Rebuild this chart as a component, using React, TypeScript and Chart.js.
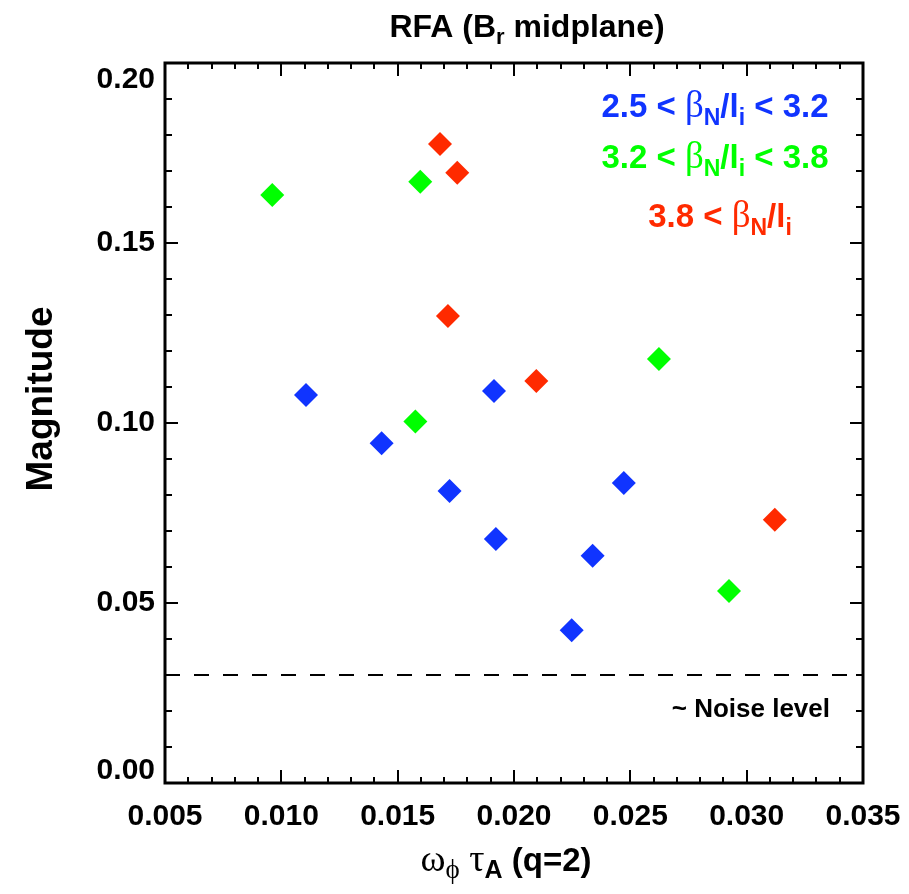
import React, { useEffect, useRef } from "react";
import { Chart, registerables } from "chart.js";

Chart.register(...registerables);

// ---- data ----
const xBlue = [0.01106, 0.01431, 0.01723, 0.01914, 0.01922, 0.02248, 0.02338, 0.02472];
const yBlue = [0.1078, 0.0944, 0.0811, 0.1089, 0.0678, 0.0424, 0.0631, 0.0833];
const xGreen = [0.00961, 0.01597, 0.01576, 0.02623, 0.02924];
const yGreen = [0.1633, 0.167, 0.1004, 0.1178, 0.0533];
const xRed = [0.01682, 0.01756, 0.01716, 0.02096, 0.03121];
const yRed = [0.1775, 0.1695, 0.1297, 0.1117, 0.0731];
const noiseLevel = 0.03;
const xRange = [0.005, 0.035];
const yRange = [0.0, 0.2];
const xMajorStep = 0.005;
const xMinorStep = 0.001;
const yMajorStep = 0.05;
const yMinorStep = 0.01;

const BLUE = "#1034ff";
const GREEN = "#00ff00";
const RED = "#ff2a00";

const SANS = '"Liberation Sans", Arial, sans-serif';
const SERIF = '"Liberation Serif", "DejaVu Serif", serif';

type Run = { t: string; font: string; dy?: number };

function runsWidth(ctx: CanvasRenderingContext2D, runs: Run[]) {
  let w = 0;
  for (const r of runs) {
    ctx.font = r.font;
    w += ctx.measureText(r.t).width;
  }
  return w;
}

function drawRuns(ctx: CanvasRenderingContext2D, runs: Run[], cx: number, y: number, color: string) {
  const w = runsWidth(ctx, runs);
  let x = cx - w / 2;
  ctx.fillStyle = color;
  ctx.textAlign = "left";
  ctx.textBaseline = "alphabetic";
  for (const r of runs) {
    ctx.font = r.font;
    ctx.fillText(r.t, x, y + (r.dy || 0));
    x += ctx.measureText(r.t).width;
  }
}

const framePlugin = {
  id: "framePlugin",
  beforeDraw(chart: any) {
    const ys = chart.scales.y;
    const items = ys.getLabelItems(chart.chartArea);
    for (const it of items) {
      if (it.label === "0.20") it.options.translation[1] += 17;
      if (it.label === "0.00") it.options.translation[1] -= 12;
    }
  },
  afterDraw(chart: any) {
    const ctx: CanvasRenderingContext2D = chart.ctx;
    const { left, right, top, bottom } = chart.chartArea;
    const xs = chart.scales.x;
    const ys = chart.scales.y;
    ctx.save();
    ctx.strokeStyle = "#000";
    // ticks
    ctx.lineWidth = 2;
    const nx = Math.round((xRange[1] - xRange[0]) / xMinorStep);
    for (let i = 1; i < nx; i++) {
      const v = xRange[0] + i * xMinorStep;
      const px = Math.round(xs.getPixelForValue(v));
      const len = i % Math.round(xMajorStep / xMinorStep) === 0 ? 13 : 6;
      ctx.beginPath();
      ctx.moveTo(px, bottom);
      ctx.lineTo(px, bottom - len);
      ctx.moveTo(px, top);
      ctx.lineTo(px, top + len);
      ctx.stroke();
    }
    const ny = Math.round((yRange[1] - yRange[0]) / yMinorStep);
    for (let i = 1; i < ny; i++) {
      const v = yRange[0] + i * yMinorStep;
      const py = Math.round(ys.getPixelForValue(v));
      const len = i % Math.round(yMajorStep / yMinorStep) === 0 ? 13 : 7;
      ctx.beginPath();
      ctx.moveTo(left, py);
      ctx.lineTo(left + len, py);
      ctx.moveTo(right, py);
      ctx.lineTo(right - len, py);
      ctx.stroke();
    }
    // frame
    ctx.lineWidth = 3;
    ctx.strokeRect(left, top, right - left, bottom - top);

    // title
    drawRuns(
      ctx,
      [
        { t: "RFA (B", font: `bold 32px ${SANS}` },
        { t: "r", font: `bold 22px ${SANS}`, dy: 7 },
        { t: " midplane)", font: `bold 32px ${SANS}` },
      ],
      527,
      37,
      "#000"
    );

    // x title
    drawRuns(
      ctx,
      [
        { t: "ω", font: `38px ${SERIF}` },
        { t: "ϕ", font: `27px ${SERIF}`, dy: 7 },
        { t: " τ", font: `38px ${SERIF}` },
        { t: "A", font: `bold 25px ${SANS}`, dy: 7 },
        { t: " (q=2)", font: `bold 33px ${SANS}` },
      ],
      506,
      871,
      "#000"
    );

    // y title
    ctx.save();
    ctx.translate(52, 399);
    ctx.rotate(-Math.PI / 2);
    ctx.font = `bold 37px ${SANS}`;
    ctx.fillStyle = "#000";
    ctx.textAlign = "center";
    ctx.textBaseline = "alphabetic";
    ctx.fillText("Magnitude", 0, 0);
    ctx.restore();

    // legend texts
    const big = `bold 33px ${SANS}`;
    const sub = `bold 23px ${SANS}`;
    const beta = `37px ${SERIF}`;
    drawRuns(
      ctx,
      [
        { t: "2.5 < ", font: big },
        { t: "β", font: beta },
        { t: "N", font: sub, dy: 8 },
        { t: "/l", font: big },
        { t: "i", font: sub, dy: 8 },
        { t: " < 3.2", font: big },
      ],
      715,
      117,
      BLUE
    );
    drawRuns(
      ctx,
      [
        { t: "3.2 < ", font: big },
        { t: "β", font: beta },
        { t: "N", font: sub, dy: 8 },
        { t: "/l", font: big },
        { t: "i", font: sub, dy: 8 },
        { t: " < 3.8", font: big },
      ],
      715,
      168,
      GREEN
    );
    drawRuns(
      ctx,
      [
        { t: "3.8 < ", font: big },
        { t: "β", font: beta },
        { t: "N", font: sub, dy: 8 },
        { t: "/l", font: big },
        { t: "i", font: sub, dy: 8 },
      ],
      720,
      227,
      RED
    );

    // noise label
    ctx.font = `bold 26px ${SANS}`;
    ctx.fillStyle = "#000";
    ctx.textAlign = "right";
    ctx.textBaseline = "alphabetic";
    ctx.fillText("~ Noise level", 830, 717);
    ctx.restore();
  },
};

function toPts(xs: number[], ys: number[]) {
  return xs.map((x, i) => ({ x, y: ys[i] }));
}

export default function App() {
  const ref = useRef<HTMLCanvasElement | null>(null);
  useEffect(() => {
    document.body.style.margin = "0";
    const canvas = ref.current!;
    const mk = (data: any[], color: string) => ({
      type: "scatter" as const,
      data,
      pointStyle: "rectRot",
      pointRadius: 12,
      pointHoverRadius: 12,
      backgroundColor: color,
      borderColor: color,
      borderWidth: 0,
      showLine: false,
    });
    const chart = new Chart(canvas, {
      type: "scatter",
      data: {
        datasets: [
          {
            type: "line",
            data: [
              { x: xRange[0], y: noiseLevel },
              { x: xRange[1], y: noiseLevel },
            ],
            borderColor: "#000",
            borderWidth: 2,
            borderDash: [15, 14],
            pointRadius: 0,
            fill: false,
          } as any,
          mk(toPts(xBlue, yBlue), BLUE) as any,
          mk(toPts(xGreen, yGreen), GREEN) as any,
          mk(toPts(xRed, yRed), RED) as any,
        ],
      },
      options: {
        animation: false,
        responsive: false,
        devicePixelRatio: 1,
        layout: { padding: { top: 63, right: 46, left: 0, bottom: 0 } },
        plugins: { legend: { display: false }, tooltip: { enabled: false }, title: { display: false } },
        scales: {
          x: {
            type: "linear",
            min: xRange[0],
            max: xRange[1],
            grid: { display: false, drawTicks: false },
            border: { display: false },
            ticks: {
              stepSize: xMajorStep,
              padding: 16,
              color: "#000",
              font: { family: SANS, size: 30, weight: "bold" },
              callback: (v: any) => Number(v).toFixed(3),
            },
            afterFit: (s: any) => {
              s.height = 111;
              s.paddingLeft = 0;
              s.paddingRight = 0;
            },
          },
          y: {
            type: "linear",
            min: yRange[0],
            max: yRange[1],
            grid: { display: false, drawTicks: false },
            border: { display: false },
            ticks: {
              stepSize: yMajorStep,
              padding: 10,
              color: "#000",
              font: { family: SANS, size: 30, weight: "bold" },
              callback: (v: any) => Number(v).toFixed(2),
            },
            afterFit: (s: any) => {
              s.width = 165;
              s.paddingTop = 0;
              s.paddingBottom = 0;
            },
          },
        },
      } as any,
      plugins: [framePlugin],
    });
    return () => chart.destroy();
  }, []);
  return (
    <div style={{ width: 909, height: 894, background: "#fff" }}>
      <canvas ref={ref} width={909} height={894} style={{ display: "block" }} />
    </div>
  );
}
